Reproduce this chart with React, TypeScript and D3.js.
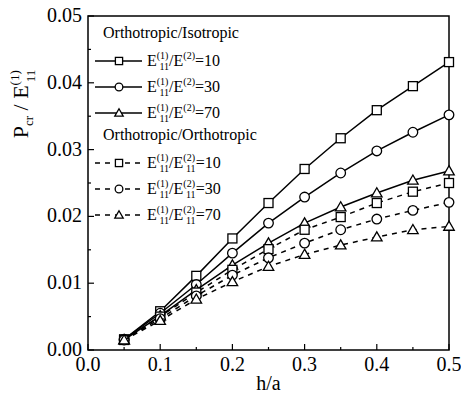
import React from 'react';
import * as d3 from 'd3';

// h/a values
const hOverA = [0.05, 0.1, 0.15, 0.2, 0.25, 0.3, 0.35, 0.4, 0.45, 0.5];

// Orthotropic/Isotropic
const isoE10 = [0.0016, 0.0058, 0.0111, 0.0167, 0.022, 0.0271, 0.0317, 0.0359, 0.0395, 0.0431];
const isoE30 = [0.0016, 0.0055, 0.0098, 0.0145, 0.019, 0.0229, 0.0265, 0.0298, 0.0326, 0.0352];
const isoE70 = [0.0015, 0.0051, 0.009, 0.0127, 0.016, 0.019, 0.0214, 0.0235, 0.0254, 0.0268];

// Orthotropic/Orthotropic
const orthoE10 = [0.0015, 0.005, 0.0086, 0.012, 0.0151, 0.018, 0.0199, 0.022, 0.0237, 0.025];
const orthoE30 = [0.0015, 0.0047, 0.0081, 0.0112, 0.0138, 0.016, 0.018, 0.0196, 0.0209, 0.0221];
const orthoE70 = [0.0015, 0.0044, 0.0076, 0.0102, 0.0125, 0.0143, 0.0157, 0.0169, 0.018, 0.0185];

const xTicks = [0.0, 0.1, 0.2, 0.3, 0.4, 0.5];
const yTicks = [0.0, 0.01, 0.02, 0.03, 0.04, 0.05];
const ratios = ['10', '30', '70'];

const W = 461;
const H = 396;
const margin = { top: 16, right: 12, bottom: 46, left: 88 };
const FONT = 'Liberation Serif';

const x = d3.scaleLinear().domain([0, 0.5]).range([margin.left, W - margin.right]);
const y = d3.scaleLinear().domain([0, 0.05]).range([H - margin.bottom, margin.top]);

const series = [
  { values: isoE10, marker: 'square', dashed: false },
  { values: isoE30, marker: 'circle', dashed: false },
  { values: isoE70, marker: 'triangle', dashed: false },
  { values: orthoE10, marker: 'square', dashed: true },
  { values: orthoE30, marker: 'circle', dashed: true },
  { values: orthoE70, marker: 'triangle', dashed: true },
];

function Marker({ type, cx, cy, s = 1 }: { type: string; cx: number; cy: number; s?: number }) {
  const style = { fill: 'white', stroke: 'black', strokeWidth: 1.3 };
  if (type === 'square') {
    return <rect x={cx - 4.5 * s} y={cy - 4.5 * s} width={9 * s} height={9 * s} {...style} />;
  }
  if (type === 'circle') {
    return <circle cx={cx} cy={cy} r={4.8 * s} {...style} />;
  }
  const sym = d3.symbol().type(d3.symbolTriangle).size(48 * s * s)();
  return <path d={sym || ''} transform={`translate(${cx},${cy + 0.8 * s})`} {...style} />;
}

function App() {
  const line = d3
    .line<number>()
    .x((_, i) => x(hOverA[i]))
    .y((d) => y(d));

  const xMinor = d3.range(0, 0.5001, 0.05);
  const yMinor = d3.range(0, 0.05001, 0.005);
  const x0 = x(0);
  const x1 = x(0.5);
  const y0 = y(0);
  const y1 = y(0.05);

  const legendX = 95;
  const legendRowY = [61, 87, 113, 163, 189, 215];

  return (
    <svg width={W} height={H} style={{ position: 'absolute', left: 0, top: 0 }}>
      <rect width={W} height={H} fill="white" />
      <g fontFamily={FONT}>
        {/* frame */}
        <rect x={x0} y={y1} width={x1 - x0} height={y0 - y1} fill="none" stroke="black" strokeWidth={1.5} />

        {/* x ticks */}
        {xMinor.map((t, i) => (
          <line key={'xm' + i} x1={x(t)} x2={x(t)} y1={y0} y2={y0 - (i % 2 === 0 ? 6 : 3)} stroke="black" strokeWidth={1.2} />
        ))}
        {xTicks.map((t) => (
          <text key={'xt' + t} x={x(t)} y={371} fontSize={20} textAnchor="middle" fontFamily={FONT}>
            {d3.format('.1f')(t)}
          </text>
        ))}

        {/* y ticks */}
        {yMinor.map((t, i) => (
          <line key={'ym' + i} x1={x0} x2={x0 + (i % 2 === 0 ? 6 : 3)} y1={y(t)} y2={y(t)} stroke="black" strokeWidth={1.2} />
        ))}
        {yTicks.map((t) => (
          <text key={'yt' + t} x={x0 - 6} y={y(t) + 6} fontSize={20} textAnchor="end" fontFamily={FONT}>
            {d3.format('.2f')(t)}
          </text>
        ))}

        {/* axis titles */}
        <text x={(x0 + x1) / 2} y={390} fontSize={20} textAnchor="middle" fontFamily={FONT}>h/a</text>
        <text transform="translate(28,104) rotate(-90)" fontSize={22} textAnchor="middle" fontFamily={FONT}>
          P<tspan fontSize={13} dy={5}>cr</tspan>
          <tspan dy={-5}> / E</tspan>
          <tspan fontSize={13} dy={-9}>(1)</tspan>
          <tspan fontSize={13} dx={-12} dy={16}>11</tspan>
        </text>

        {/* series */}
        {series.map((s, si) => (
          <g key={'s' + si}>
            <path
              d={line(s.values) || ''}
              fill="none"
              stroke="black"
              strokeWidth={1.5}
              strokeDasharray={s.dashed ? '5,5' : undefined}
            />
            {s.values.map((v, i) => (
              <Marker key={i} type={s.marker} cx={x(hOverA[i])} cy={y(v)} />
            ))}
          </g>
        ))}

        {/* legend */}
        <text x={103} y={38} fontSize={16} fontFamily={FONT}>Orthotropic/Isotropic</text>
        <text x={103} y={140} fontSize={16} fontFamily={FONT}>Orthotropic/Orthotropic</text>
        {series.map((s, si) => {
          const ly = legendRowY[si];
          return (
            <g key={'lg' + si}>
              <line
                x1={legendX}
                x2={legendX + 47}
                y1={ly}
                y2={ly}
                stroke="black"
                strokeWidth={1.5}
                strokeDasharray={s.dashed ? '5,5' : undefined}
              />
              <Marker type={s.marker} cx={legendX + 24} cy={ly} s={0.8} />
              <text x={legendX + 52} y={ly + 5} fontSize={16} fontFamily={FONT}>
                E
                <tspan fontSize={10} dy={-7}>(1)</tspan>
                <tspan fontSize={10} dx={-9} dy={11}>11</tspan>
                <tspan dy={-4}>/E</tspan>
                <tspan fontSize={10} dy={-7}>(2)</tspan>
                {s.dashed ? (
                  <>
                    <tspan fontSize={10} dx={-9} dy={11}>11</tspan>
                    <tspan dy={-4}>={ratios[si % 3]}</tspan>
                  </>
                ) : (
                  <tspan dy={7}>={ratios[si % 3]}</tspan>
                )}
              </text>
            </g>
          );
        })}
      </g>
    </svg>
  );
}

export default App;
